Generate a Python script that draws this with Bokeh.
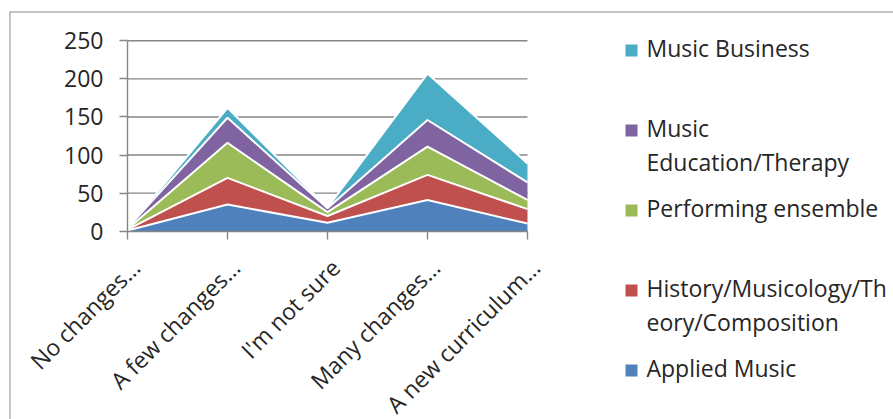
import math

from bokeh.core.properties import value
from bokeh.embed import file_html
from bokeh.models import ColumnDataSource, FixedTicker, LinearAxis, Range1d, Span
from bokeh.plotting import figure
from bokeh.resources import INLINE

# ---- data -------------------------------------------------------------
categories = ["No changes…", "A few changes…", "I'm not sure",
              "Many changes…", "A new curriculum…"]
applied_music = [1, 35, 11, 41, 10]
history_theory = [1, 35, 9, 33, 19]
performing_ensemble = [1, 46, 5, 37, 12]
music_education = [1, 33, 5, 35, 23]
music_business = [0, 13, 1, 61, 25]
y_ticks = [0, 50, 100, 150, 200, 250]

series_names = ["Applied Music", "History/Musicology/Theory/Composition",
                "Performing ensemble", "Music Education/Therapy", "Music Business"]
series_values = [applied_music, history_theory, performing_ensemble,
                 music_education, music_business]
colors = ["#4F81BD", "#C0504D", "#9BBB59", "#8064A2", "#4BACC6"]

# legend text as it wraps inside the legend column
legend_lines = {
    "Music Education/Therapy": ["Music", "Education/Therapy"],
    "History/Musicology/Theory/Composition": ["History/Musicology/Th", "eory/Composition"],
}

# ---- page geometry (pixels) -------------------------------------------
W, H = 893, 419
FRAME_LEFT, FRAME_TOP = 9, 11
X_FIRST_PX, X_STEP_PX = 127, 100          # first category and spacing
Y_ZERO_PX, Y_TOP_PX = 230.7, 40.3         # y = 0 and y = 250
FONT = "Open Sans"
TEXT_COLOR = "#262626"
GRAY = "#868686"
FS = "23px"

n = len(categories)
x_per_px = 1.0 / X_STEP_PX
y_per_px = (y_ticks[-1] - y_ticks[0]) / (Y_ZERO_PX - Y_TOP_PX)
x_start = -(X_FIRST_PX - FRAME_LEFT) * x_per_px
x_end = (n - 1) + (W - (X_FIRST_PX + (n - 1) * X_STEP_PX)) * x_per_px
y_end = y_ticks[-1] + (Y_TOP_PX - FRAME_TOP) * y_per_px
y_start = -(H - Y_ZERO_PX) * y_per_px


def px_x(px):
    return x_start + (px - FRAME_LEFT) * x_per_px


def px_y(py):
    return y_end - (py - FRAME_TOP) * y_per_px


p = figure(width=W, height=H, output_backend="svg", toolbar_location=None,
           x_range=Range1d(x_start, x_end), y_range=Range1d(y_start, y_end),
           x_axis_location=None, y_axis_location=None,
           min_border=0, min_border_left=FRAME_LEFT, min_border_top=FRAME_TOP)
p.grid.visible = False
p.outline_line_color = None
p.background_fill_color = "white"
p.border_fill_color = "white"

# chart border (top and left edges visible)
p.add_layout(Span(location=y_end, dimension="width", line_color="#8c8c8c", line_width=2))
p.add_layout(Span(location=x_start, dimension="height", line_color="#8c8c8c", line_width=2))

# horizontal gridlines across the category span
p.segment(x0=[0] * len(y_ticks), x1=[n - 1] * len(y_ticks), y0=y_ticks, y1=y_ticks,
          line_color=GRAY, line_width=1.4)

# stacked areas
data = {"x": list(range(n))}
keys = []
for i, vals in enumerate(series_values):
    k = f"s{i}"
    data[k] = vals
    keys.append(k)
source = ColumnDataSource(data)
p.varea_stack(stackers=keys, x="x", color=colors, source=source)
p.vline_stack(stackers=keys, x="x", line_color="white", line_width=2, source=source)


def style_axis(ax):
    ax.axis_line_color = GRAY
    ax.axis_line_width = 1.4
    ax.major_tick_line_color = GRAY
    ax.major_tick_line_width = 1.4
    ax.major_tick_out = 8
    ax.major_tick_in = 0
    ax.minor_tick_out = 0
    ax.minor_tick_in = 0
    ax.major_label_text_font = FONT
    ax.major_label_text_font_size = FS
    ax.major_label_text_color = TEXT_COLOR


# category axis: line and ticks
xaxis = LinearAxis(fixed_location=0, bounds=(0, n - 1),
                   ticker=FixedTicker(ticks=list(range(n)), minor_ticks=[]))
style_axis(xaxis)
xaxis.major_label_text_alpha = 0
p.add_layout(xaxis, "below")

# category labels, set slightly right of their ticks
label_shift = 8 * x_per_px
label_ticks = [i + label_shift for i in range(n)]
xlabels = LinearAxis(fixed_location=0,
                     ticker=FixedTicker(ticks=label_ticks, minor_ticks=[]),
                     major_label_overrides={t: c for t, c in zip(label_ticks, categories)},
                     major_label_orientation=math.pi / 4)
style_axis(xlabels)
xlabels.axis_line_color = None
xlabels.major_tick_line_color = None
xlabels.major_label_standoff = 24
p.add_layout(xlabels, "below")

yaxis = LinearAxis(fixed_location=0, bounds=(y_ticks[0], y_ticks[-1]),
                   ticker=FixedTicker(ticks=y_ticks, minor_ticks=[]))
style_axis(yaxis)
yaxis.major_label_standoff = 16
p.add_layout(yaxis, "left")

# legend, top entry first
LEG_SWATCH_PX = 631
LEG_TEXT_PX = 646
LEG_FIRST_PX = 49
LEG_STEP_PX = 80
LEG_LINE_PX = 34
sw_x, sw_y, sw_c = [], [], []
tx, ty, tt = [], [], []
for row, idx in enumerate(reversed(range(len(series_names)))):
    name = series_names[idx]
    top = LEG_FIRST_PX + row * LEG_STEP_PX
    sw_x.append(px_x(LEG_SWATCH_PX))
    sw_y.append(px_y(top + 1))
    sw_c.append(colors[idx])
    for j, line in enumerate(legend_lines.get(name, [name])):
        tx.append(px_x(LEG_TEXT_PX))
        ty.append(px_y(top - 2 + j * LEG_LINE_PX))
        tt.append(line)
p.scatter(x=sw_x, y=sw_y, marker="square", size=12, fill_color=sw_c, line_color=None)
p.text(x=tx, y=ty, text=tt, text_font=value(FONT), text_font_size=FS,
       text_color=TEXT_COLOR, text_baseline="middle", text_align="left")

open("out.html", "w").write(file_html(p, INLINE))
